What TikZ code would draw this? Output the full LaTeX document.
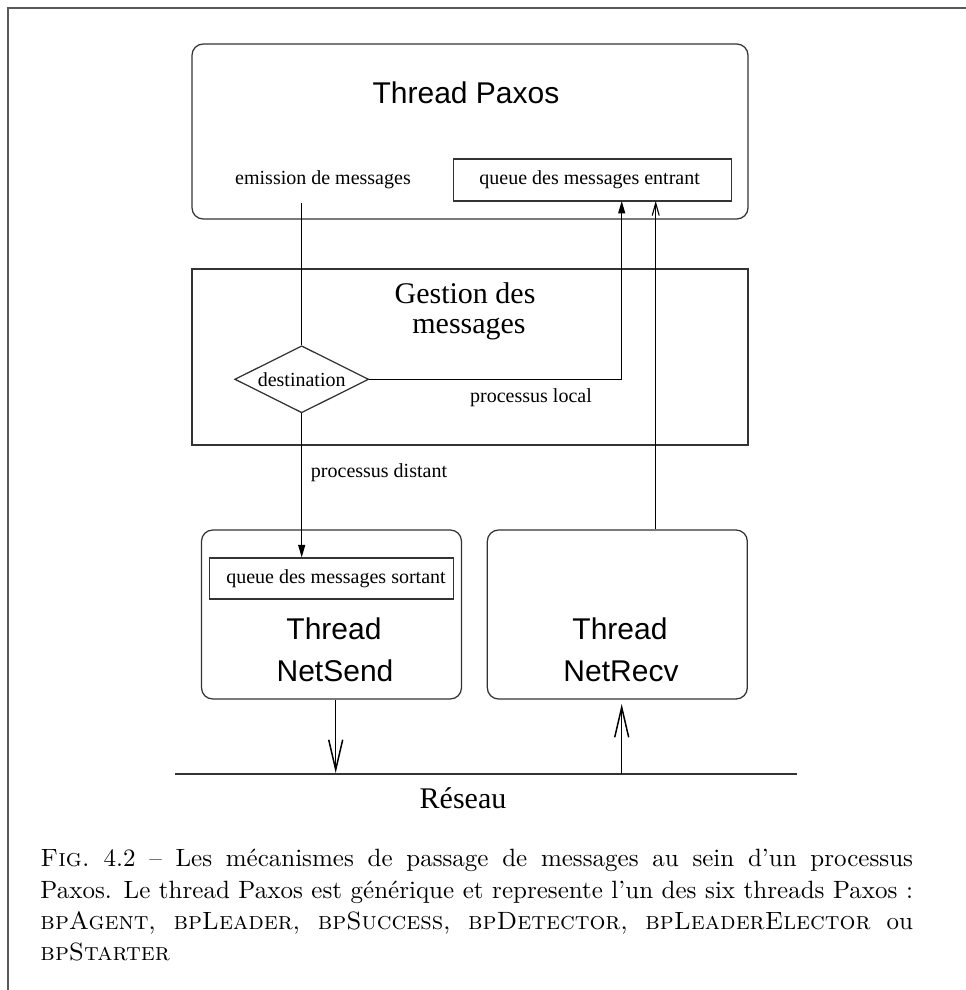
\documentclass[tikz,border=0pt]{standalone}
\usepackage{fontspec}
\newfontfamily\figrm{Liberation Serif}
\newfontfamily\figsf{Liberation Sans}
\usetikzlibrary{arrows.meta,shapes.geometric}
\begin{document}
\begin{tikzpicture}[x=0.4pt,y=-0.4pt,
  tbox/.style={draw=black!80,line width=0.5pt,rounded corners=4.5pt,inner sep=0pt},
  qbox/.style={draw=black!80,line width=0.5pt,inner sep=0pt},
  small/.style={font=\figrm\fontsize{8}{9.6}\selectfont,inner sep=0pt},
  bigsf/.style={font=\figsf\fontsize{12}{14}\selectfont,inner sep=0pt},
  bigrm/.style={font=\figrm\fontsize{12}{14}\selectfont,inner sep=0pt},
  conn/.style={line width=0.45pt},
  fillarrow/.style={conn,-{Triangle[length=5pt,width=2.8pt]}},
  openarrow/.style={conn,-{Straight Barb[length=5pt,width=2.8pt]}},
  bigarrow/.style={line width=0.6pt,-{Straight Barb[length=12pt,width=5.6pt]}}]
\useasboundingbox (0,0) rectangle (965,990);
% frame
\draw[black!65,line width=0.6pt] (8,992) -- (8,8) -- (967,8);

% Thread Paxos
\node[tbox,minimum width=222.4pt,minimum height=70pt] (paxos) at (470,131.5) {};
\node[bigsf,anchor=base] (paxost) at (466,103.5) {Thread Paxos};
\node[small,anchor=base] (emit) at (323,185) {emission de messages};
\node[qbox,minimum width=111.2pt,minimum height=16.8pt] (entrant) at (592.5,180) {};
\node[small,anchor=base] (entrantt) at (589.6,185) {queue des messages entrant};

% Gestion des messages
\node[qbox,minimum width=222.4pt,minimum height=70.4pt] (gestion) at (470,357) {};
\node[bigrm,anchor=base] (gestA) at (465,303.7) {Gestion des};
\node[bigrm,anchor=base] (gestB) at (469,333.7) {messages};
\node[draw=black!80,line width=0.5pt,diamond,aspect=2,minimum width=53.6pt,minimum height=26.8pt,inner sep=0pt,small] (dest) at (301.7,379.3) {destination};
\node[small,anchor=base] (local) at (531,403) {processus local};
\node[small,anchor=base] (distant) at (379,478) {processus distant};

% NetSend
\node[tbox,minimum width=104pt,minimum height=67.6pt] (netsend) at (331.5,614.5) {};
\node[qbox,minimum width=97.6pt,minimum height=16.4pt] (sortant) at (331.4,578.5) {};
\node[small,anchor=base] (sortantt) at (336,583) {queue des messages sortant};
\node[bigsf,anchor=base] (sendA) at (334,639.5) {Thread};
\node[bigsf,anchor=base] (sendB) at (335,681) {NetSend};

% NetRecv
\node[tbox,minimum width=104pt,minimum height=67.6pt] (netrecv) at (617.3,614.5) {};
\node[bigsf,anchor=base] (recvA) at (620,639.5) {Thread};
\node[bigsf,anchor=base] (recvB) at (621,681) {NetRecv};

% Reseau
\coordinate (netL) at (175,774);
\coordinate (netR) at (797,774);
\draw[black!80,line width=0.5pt] (netL) -- (netR);
\node[bigrm,anchor=base] (reseau) at (463,808) {Réseau};

% connectors
\coordinate (emitS) at (301.7,203);
\coordinate (inA) at (621.7,201);
\coordinate (inB) at (655.7,201);
\coordinate (sendOut) at (335.7,773);
\coordinate (recvOn) at (621.7,774);
\coordinate (recvIn) at (621.7,704);
\draw[conn] (emitS) -- (dest.north);
\draw[fillarrow] (dest.east) -| (inA);
\draw[fillarrow] (dest.south) -- (dest.south |- sortant.north);
\draw[openarrow] (netrecv.north -| inB) -- (inB);
\draw[bigarrow] (netsend.south -| sendOut) -- (sendOut);
\draw[bigarrow] (recvOn) -- (recvIn);

% caption
\node[anchor=north west,inner sep=0pt,text width=349pt,align=justify,font=\fontsize{10}{12.5}\selectfont] (cap) at (40,849)
{\textsc{Fig.}~4.2 -- Les mécanismes de passage de messages au sein d'un processus\linebreak
Paxos. Le thread Paxos est générique et represente l'un des six threads Paxos~:\linebreak
\textsc{bpAgent}, \textsc{bpLeader}, \textsc{bpSuccess}, \textsc{bpDetector}, \textsc{bpLeaderElector} ou\linebreak
\textsc{bpStarter}};
\end{tikzpicture}
\end{document}
